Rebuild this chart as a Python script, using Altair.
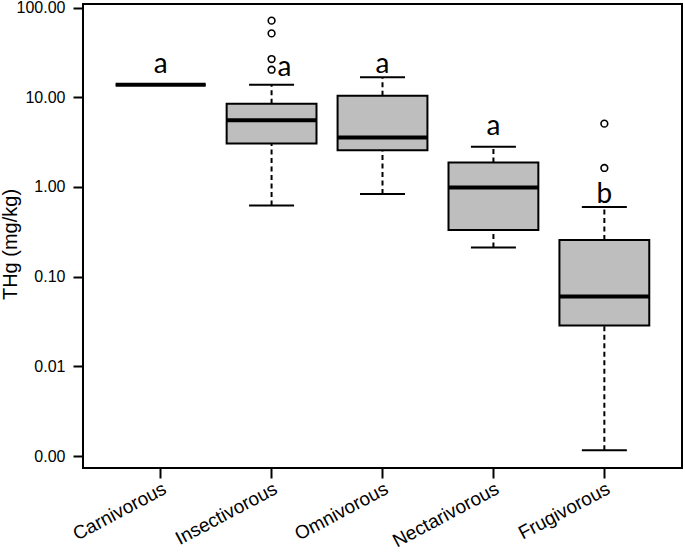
import altair as alt
import pandas as pd

# Feeding guilds and their THg summary (mg/kg)
groups = ["Carnivorous", "Insectivorous", "Omnivorous", "Nectarivorous", "Frugivorous"]
whisker_low = [13.8, 0.62, 0.835, 0.212, 0.00116]
quart_1 = [13.8, 3.06, 2.56, 0.332, 0.0286]
medians = [13.8, 5.53, 3.57, 0.99, 0.0603]
quart_3 = [13.8, 8.47, 10.4, 1.88, 0.256]
whisker_high = [13.8, 13.8, 16.7, 2.81, 0.598]

# Values beyond the whiskers
outlier_groups = ["Insectivorous"] * 4 + ["Frugivorous"] * 2
outlier_values = [71.5, 51.6, 26.7, 20.3, 5.08, 1.63]

# Significance letters and the level they sit at
letters = ["a", "a", "a", "a", "b"]
letter_at = [18.9, 17.4, 18.7, 3.83, 0.663]

y_ticks = [0.001, 0.01, 0.1, 1, 10, 100]

boxes = pd.DataFrame({
    "group": groups, "lo": whisker_low, "q1": quart_1, "med": medians,
    "q3": quart_3, "hi": whisker_high,
})
outliers = pd.DataFrame({"group": outlier_groups, "value": outlier_values})
labels = pd.DataFrame({"group": groups, "letter": letters, "at": letter_at})

AXIS_FONT = "Liberation Sans"

x_enc = alt.X(
    "group:N", sort=groups,
    scale=alt.Scale(domain=groups, paddingInner=0.19, paddingOuter=0.295),
    axis=alt.Axis(
        title=None, labelAngle=-28, labelAlign="right", labelBaseline="top",
        labelFont=AXIS_FONT, labelFontSize=19, labelColor="black",
        labelPadding=1, tickColor="black", tickSize=10, tickWidth=2,
        domain=False,
    ),
)
y_scale = alt.Scale(type="log", domain=[0.000736, 109.7], nice=False)
y_axis = alt.Axis(
    title="THg (mg/kg)", values=y_ticks, format=".2f",
    labelFont=AXIS_FONT, labelFontSize=16, labelColor="black", labelPadding=8,
    tickColor="black", tickSize=10, tickWidth=2, domain=False,
    titleFont=AXIS_FONT, titleFontSize=20, titleFontWeight="normal",
    titleColor="black", titleX=-73, titleY=240, titleAngle=-90,
    titleAlign="center", titleBaseline="middle",
)

base = alt.Chart(boxes)

whisk_up = base.mark_rule(color="black", strokeWidth=2, strokeDash=[5, 3.5]).encode(
    x=x_enc, y=alt.Y("q3:Q", scale=y_scale, axis=y_axis), y2="hi:Q")
whisk_dn = base.mark_rule(color="black", strokeWidth=2, strokeDash=[5, 3.5]).encode(
    x=x_enc, y=alt.Y("lo:Q", scale=y_scale, axis=y_axis), y2="q1:Q")
cap_hi = base.mark_tick(color="black", opacity=1, size=45, thickness=2).encode(
    x=x_enc, y=alt.Y("hi:Q", scale=y_scale, axis=y_axis))
cap_lo = base.mark_tick(color="black", opacity=1, size=45, thickness=2).encode(
    x=x_enc, y=alt.Y("lo:Q", scale=y_scale, axis=y_axis))
box = base.mark_bar(fill="#BEBEBE", stroke="black", strokeWidth=2, opacity=1).encode(
    x=x_enc, y=alt.Y("q1:Q", scale=y_scale, axis=y_axis), y2="q3:Q")
median = base.mark_tick(color="black", opacity=1, size=90, thickness=4).encode(
    x=x_enc, y=alt.Y("med:Q", scale=y_scale, axis=y_axis))

points = alt.Chart(outliers).mark_point(
    shape="circle", filled=False, color="black", opacity=1, strokeWidth=1.6, size=45
).encode(x=x_enc, y=alt.Y("value:Q", scale=y_scale, axis=y_axis))

letter_centered = alt.Chart(labels).transform_filter(
    "datum.group != 'Insectivorous'"
).mark_text(font="Lato", fontSize=28, color="black", baseline="alphabetic").encode(
    x=x_enc, y=alt.Y("at:Q", scale=y_scale, axis=y_axis), text="letter:N")
letter_shifted = alt.Chart(labels).transform_filter(
    "datum.group == 'Insectivorous'"
).mark_text(font="Lato", fontSize=28, color="black", baseline="alphabetic", dx=13).encode(
    x=x_enc, y=alt.Y("at:Q", scale=y_scale, axis=y_axis), text="letter:N")

chart = alt.layer(
    whisk_up, whisk_dn, cap_hi, cap_lo, box, median, points,
    letter_centered, letter_shifted,
).properties(
    width=599, height=464,
    padding={"left": 83, "top": 4, "right": 3, "bottom": 87},
    autosize=alt.AutoSizeParams(type="none"),
    background="white",
).configure_view(
    stroke="black", strokeWidth=2,
).configure_axis(grid=False)

chart.save("out.html", embed_options={"renderer": "svg", "actions": False})
